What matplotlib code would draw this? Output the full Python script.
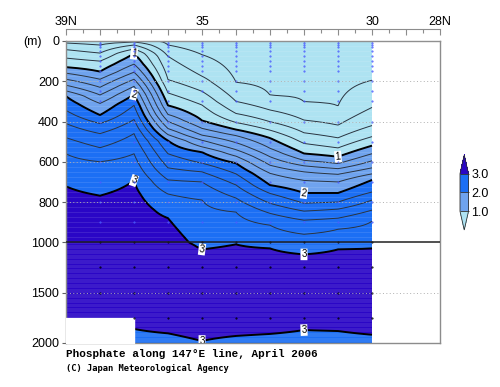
import numpy as np
import matplotlib.pyplot as plt
from matplotlib.colors import ListedColormap, BoundaryNorm
import matplotlib as mpl

nan = np.nan

# stations (deg N) along 147E
lats = [39, 38, 37, 36, 35, 34, 33, 32, 31, 30]
# isoline levels (umol/kg)
iso_levels = [0.2, 0.4, 0.6, 0.8, 1.0, 1.2, 1.4, 1.6, 1.8, 2.0, 2.2, 2.4, 2.6, 2.8, 3.0, 3.1]
# surface value at each station
surface = [0.35, 0.30, 0.30, 0.15, 0.05, 0.05, 0.05, 0.05, 0.05, 0.05]
# depth (m) of each isoline at each station (rows follow iso_levels)
iso_depth = [
    [nan, nan, nan, 20, 68, 205, 269, 302, 323, 195],          # 0.2
    [10, 20, 5, 76, 175, 300, 343, 393, 418, 330],             # 0.4
    [43, 60, 20, 192, 250, 360, 401, 456, 481, 420],           # 0.6
    [85, 100, 40, 258, 318, 405, 443, 509, 531, 475],          # 0.8
    [130, 152, 62, 320, 395, 440, 482, 559, 575, 520],         # 1.0
    [160, 190, 115, 365, 434, 470, 533, 593, 609, 560],        # 1.2
    [190, 230, 155, 400, 468, 505, 575, 620, 634, 595],        # 1.4
    [220, 268, 190, 435, 493, 540, 617, 650, 662, 630],        # 1.6
    [248, 310, 225, 465, 526, 572, 657, 692, 700, 660],        # 1.8
    [274, 368, 265, 495, 552, 607, 716, 755, 755, 690],        # 2.0
    [345, 410, 320, 560, 607, 660, 757, 806, 800, 750],        # 2.2
    [410, 460, 390, 630, 650, 715, 806, 845, 835, 790],        # 2.4
    [480, 530, 460, 690, 700, 780, 856, 890, 880, 840],        # 2.6
    [560, 600, 560, 760, 790, 850, 915, 960, 935, 895],        # 2.8
    [722, 768, 692, 880, 1070, 1020, 1060, 1120, 1070, 1060],  # 3.0
    [860, 900, 840, 1030, 1250, 1200, 1230, 1280, 1230, 1220], # 3.1
]
deep_max_depth = 1450
deep_max = 3.15
deep_3 = [1900, 1900, 1860, 1904, 1980, 1930, 1910, 1871, 1881, 1918]
bottom_value = 2.97
sample_depths = [0, 10, 20, 30, 50, 75, 100, 125, 150, 200, 250, 300, 400, 500,
                 600, 700, 800, 900, 1000, 1250, 1500, 1750]

c_light = '#aee3f2'
c_mid = '#6fa3ee'
c_bright = '#1c6ff4'
c_dark = '#2a06c6'

# gridded field for contouring
depth_grid = np.arange(0, 2001, 5)
field = np.zeros((len(depth_grid), len(lats)))
for j in range(len(lats)):
    zs = [0]
    vs = [surface[j]]
    for lev, row in zip(iso_levels, iso_depth):
        if not np.isnan(row[j]):
            zs.append(row[j])
            vs.append(lev)
    zs += [deep_max_depth, deep_3[j], 2000]
    vs += [deep_max, 3.0, bottom_value]
    field[:, j] = np.interp(depth_grid, zs, vs)


def fwd(d):
    d = np.asarray(d, dtype=float)
    return np.where(d <= 1000, d, 1000 + (d - 1000) / 2)


def inv(t):
    t = np.asarray(t, dtype=float)
    return np.where(t <= 1000, t, 1000 + (t - 1000) * 2)


plt.rcParams['font.family'] = ['Liberation Sans', 'DejaVu Sans']
fig = plt.figure(figsize=(5, 3.87), dpi=100)
ax = fig.add_axes([0.132, 0.1137, 0.748, 0.7804])
ax.set_yscale('function', functions=(fwd, inv))

ax.contourf(lats, depth_grid, field, levels=[-1, 1, 2, 3, 9],
            colors=[c_light, c_mid, c_bright, c_dark])

# faint horizontal stripes of the shading
for d in np.arange(25, 1000, 25):
    ax.plot([39, 30], [d, d], color='white', alpha=0.12, lw=0.6)
for d in np.arange(1010, 2000, 12.5):
    ax.plot([39, 30], [d, d], color='white', alpha=0.12, lw=0.5)

thin = [l for l in iso_levels if l < 3 and l not in (1.0, 2.0)]
ax.contour(lats, depth_grid, field, levels=thin, colors='#2a3440', linewidths=0.7)
cs = ax.contour(lats, depth_grid, field, levels=[1.0, 2.0, 3.0], colors='black',
                linewidths=1.4)
lab_pos = [(37, 60), (31, 578), (37, 265), (32, 757), (37, 690),
           (35, 1070), (32, 1120), (35, 1985), (32, 1872)]
labels = ax.clabel(cs, fmt='%d', manual=lab_pos, inline=True, fontsize=7,
                   inline_spacing=2)
for t in labels:
    t.set_bbox(dict(boxstyle='square,pad=0.08', fc='white', ec='none'))

# no data on the shelf at 39-37N below 1750 m
ax.fill_between([39, 37], 1750, 2000, color='white', zorder=3)

# sampling points
for la in lats[1:]:
    up = [d for d in sample_depths if d < 1000]
    lo = [d for d in sample_depths if d >= 1000 and not (la > 37 and d > 1700)]
    ax.plot([la] * len(up), up, ls='none', marker='.', ms=1.0, color='#4a5cff', zorder=4)
    ax.plot([la] * len(lo), lo, ls='none', marker='.', ms=1.0, color='black', zorder=4)

for d in [200, 400, 600, 800, 1500]:
    ax.plot([39, 28], [d, d], color='#b0b0b0', lw=0.7, ls=(0, (1, 2.5)), zorder=4)
ax.axhline(1000, color='#202020', lw=1.1, zorder=5)
ax.axhline(0, color='#909090', lw=1.0, zorder=5, clip_on=False)

ax.set_xlim(39, 28)
ax.set_ylim(2000, 0)

# axes styling
for s in ['left', 'right', 'bottom']:
    ax.spines[s].set_color('#8c8c8c')
    ax.spines[s].set_linewidth(1.0)
ax.spines['top'].set_position(('outward', 8.6))
ax.spines['top'].set_color('#8c8c8c')
ax.xaxis.set_ticks_position('top')
ax.set_xticks(range(28, 40))
ax.set_xticklabels(['28N', '', '30', '', '', '', '', '35', '', '', '', '39N'])
ax.set_xticks(np.arange(28.5, 39, 1.0), minor=True)
ax.tick_params(axis='x', which='major', direction='in', length=4.5, width=0.8,
               color='#8c8c8c', pad=1, labelsize=9)
ax.tick_params(axis='x', which='minor', direction='in', length=3, width=0.8,
               color='#8c8c8c')
ax.set_yticks([0, 200, 400, 600, 800, 1000, 1500, 2000])
ax.set_yticklabels(['0', '200', '400', '600', '800', '1000', '1500', '2000'])
ax.yaxis.set_minor_locator(mpl.ticker.NullLocator())
ax.tick_params(axis='y', direction='out', length=3, width=0.8, color='#606060',
               pad=2, labelsize=9)

fig.text(33 / 500, 1 - 42 / 387, '(m)', ha='center', va='center', fontsize=9)

# colour bar
cax = fig.add_axes([0.92, 0.4057, 0.017, 0.1938])
cmap = ListedColormap([c_mid, c_bright])
cmap.set_over(c_dark)
cmap.set_under(c_light)
norm = BoundaryNorm([1, 2, 3], cmap.N)
cb = mpl.colorbar.ColorbarBase(cax, cmap=cmap, norm=norm, extend='both',
                               extendfrac=0.5, ticks=[1, 2, 3], drawedges=True)
cb.set_ticklabels(['1.0', '2.0', '3.0'])
cb.outline.set_linewidth(0.6)
cb.outline.set_edgecolor('#303030')
cb.dividers.set_color('#303030')
cb.dividers.set_linewidth(0.6)
cax.tick_params(length=0, pad=2, labelsize=9)

fig.text(66 / 500, 1 - 357 / 387, 'Phosphate along 147\u00b0E line, April 2006',
         family='Liberation Mono', fontsize=7.9, weight='bold', va='baseline')
fig.text(66 / 500, 1 - 371 / 387, '(C) Japan Meteorological Agency',
         family='DejaVu Sans Mono', fontsize=6.3, weight='bold', va='baseline')

fig.savefig('out.png', dpi=100)
